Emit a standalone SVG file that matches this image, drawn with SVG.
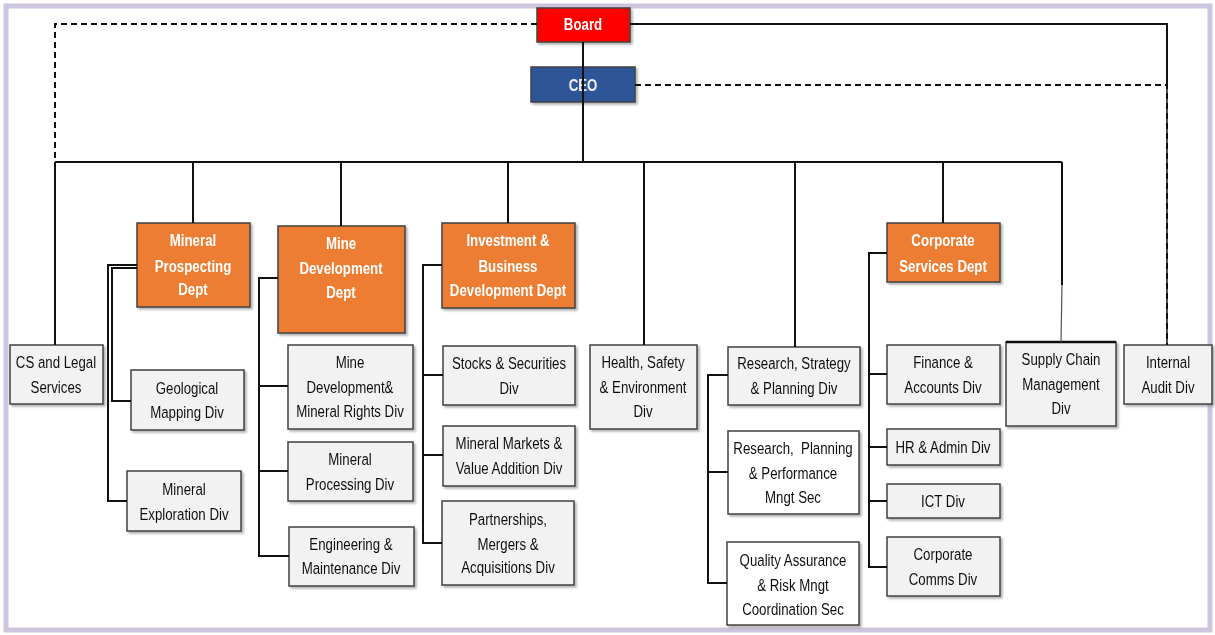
<svg xmlns="http://www.w3.org/2000/svg" width="1215" height="635" viewBox="0 0 1215 635">
<style>
.box{fill:#f2f2f2;stroke:#404040;stroke-width:1.5}
.wbox{fill:#ffffff;stroke:#404040;stroke-width:1.5}
.dept{fill:#ed7d31;stroke:#404040;stroke-width:1.5}
.t{font-family:"Liberation Sans",Arial,sans-serif;font-size:17px;fill:#111111;text-anchor:middle}
.w{font-family:"Liberation Sans",Arial,sans-serif;font-size:17px;font-weight:bold;fill:#ffffff;text-anchor:middle}
.c{fill:none;stroke:#111111;stroke-width:2}
.d{fill:none;stroke:#111111;stroke-width:2;stroke-dasharray:6 4}
</style>
<defs>
<filter id="sh" x="-10%" y="-10%" width="130%" height="130%">
<feDropShadow dx="2" dy="2" stdDeviation="0.8" flood-color="#808080" flood-opacity="0.6"/>
</filter>
</defs>
<rect x="6" y="6" width="1204" height="624" fill="#ffffff" stroke="#cdc4de" stroke-width="5"/>

<g id="nodes" filter="url(#sh)">
<g id="board"><rect x="537" y="8" width="93" height="34" fill="#ff0000" stroke="#404040" stroke-width="1.5"/><text class="w" font-size="16" transform="translate(583,30) scale(0.78,1)">Board</text></g>
<g id="ceo"><rect x="531" y="67" width="104" height="35" fill="#2f5597" stroke="#404040" stroke-width="1.5"/><text class="w" style="fill:#eef0f6" font-size="16" transform="translate(583,91) scale(0.78,1)">CEO</text></g>
<g id="cs-legal"><rect class="box" x="10" y="345" width="93" height="59"/><text class="t" transform="translate(56,0) scale(0.78,1)"><tspan x="0" y="368">CS and Legal</tspan><tspan x="0" y="393">Services</tspan></text></g>
<g id="mineral-prospecting"><rect class="dept" x="137" y="223" width="113" height="84"/><text class="w" transform="translate(193,0) scale(0.78,1)"><tspan x="0" y="246">Mineral</tspan><tspan x="0" y="272">Prospecting</tspan><tspan x="0" y="295">Dept</tspan></text></g>
<g id="geological"><rect class="box" x="131" y="370" width="113" height="60"/><text class="t" transform="translate(187,0) scale(0.78,1)"><tspan x="0" y="394">Geological</tspan><tspan x="0" y="418">Mapping Div</tspan></text></g>
<g id="exploration"><rect class="box" x="127" y="471" width="114" height="60"/><text class="t" transform="translate(184,0) scale(0.78,1)"><tspan x="0" y="495">Mineral</tspan><tspan x="0" y="520">Exploration Div</tspan></text></g>
<g id="mine-development"><rect class="dept" x="278" y="226" width="127" height="107"/><text class="w" transform="translate(341,0) scale(0.78,1)"><tspan x="0" y="249">Mine</tspan><tspan x="0" y="274">Development</tspan><tspan x="0" y="298">Dept</tspan></text></g>
<g id="mine-rights"><rect class="box" x="288" y="345" width="125" height="84"/><text class="t" transform="translate(350,0) scale(0.78,1)"><tspan x="0" y="368">Mine</tspan><tspan x="0" y="393">Development&amp;</tspan><tspan x="0" y="417">Mineral Rights Div</tspan></text></g>
<g id="processing"><rect class="box" x="288" y="442" width="125" height="59"/><text class="t" transform="translate(350,0) scale(0.78,1)"><tspan x="0" y="465">Mineral</tspan><tspan x="0" y="490">Processing Div</tspan></text></g>
<g id="engineering"><rect class="box" x="289" y="527" width="125" height="59"/><text class="t" transform="translate(351,0) scale(0.78,1)"><tspan x="0" y="550">Engineering &amp;</tspan><tspan x="0" y="574">Maintenance Div</tspan></text></g>
<g id="investment"><rect class="dept" x="442" y="223" width="133" height="85"/><text class="w" transform="translate(508,0) scale(0.78,1)"><tspan x="0" y="246">Investment &amp;</tspan><tspan x="0" y="272">Business</tspan><tspan x="0" y="296">Development Dept</tspan></text></g>
<g id="stocks"><rect class="box" x="443" y="346" width="132" height="59"/><text class="t" transform="translate(509,0) scale(0.78,1)"><tspan x="0" y="369">Stocks &amp; Securities</tspan><tspan x="0" y="394">Div</tspan></text></g>
<g id="markets"><rect class="box" x="443" y="426" width="132" height="60"/><text class="t" transform="translate(509,0) scale(0.78,1)"><tspan x="0" y="449">Mineral Markets &amp;</tspan><tspan x="0" y="474">Value Addition Div</tspan></text></g>
<g id="partnerships"><rect class="box" x="442" y="501" width="132" height="84"/><text class="t" transform="translate(508,0) scale(0.78,1)"><tspan x="0" y="525">Partnerships,</tspan><tspan x="0" y="550">Mergers &amp;</tspan><tspan x="0" y="573">Acquisitions Div</tspan></text></g>
<g id="hse"><rect class="box" x="590" y="345" width="107" height="84"/><text class="t" transform="translate(643,0) scale(0.78,1)"><tspan x="0" y="368">Health, Safety</tspan><tspan x="0" y="393">&amp; Environment</tspan><tspan x="0" y="417">Div</tspan></text></g>
<g id="research-strategy"><rect class="box" x="728" y="347" width="132" height="58"/><text class="t" transform="translate(794,0) scale(0.78,1)"><tspan x="0" y="369">Research, Strategy</tspan><tspan x="0" y="394">&amp; Planning Div</tspan></text></g>
<g id="research-planning"><rect class="wbox" x="728" y="431" width="131" height="83"/><text class="t" transform="translate(793,0) scale(0.78,1)"><tspan x="0" y="454">Research,&#160; Planning</tspan><tspan x="0" y="479">&amp; Performance</tspan><tspan x="0" y="503">Mngt Sec</tspan></text></g>
<g id="quality"><rect class="wbox" x="727" y="542" width="132" height="83"/><text class="t" transform="translate(793,0) scale(0.78,1)"><tspan x="0" y="566">Quality Assurance</tspan><tspan x="0" y="591">&amp; Risk Mngt</tspan><tspan x="0" y="615">Coordination Sec</tspan></text></g>
<g id="corporate-services"><rect class="dept" x="887" y="223" width="113" height="59"/><text class="w" transform="translate(943,0) scale(0.78,1)"><tspan x="0" y="246">Corporate</tspan><tspan x="0" y="272">Services Dept</tspan></text></g>
<g id="finance"><rect class="box" x="887" y="345" width="113" height="59"/><text class="t" transform="translate(943,0) scale(0.78,1)"><tspan x="0" y="368">Finance &amp;</tspan><tspan x="0" y="393">Accounts Div</tspan></text></g>
<g id="hr"><rect class="box" x="887" y="429" width="113" height="36"/><text class="t" transform="translate(943,453) scale(0.78,1)">HR &amp; Admin Div</text></g>
<g id="ict"><rect class="box" x="887" y="484" width="113" height="34"/><text class="t" transform="translate(943,507) scale(0.78,1)">ICT Div</text></g>
<g id="comms"><rect class="box" x="887" y="537" width="113" height="59"/><text class="t" transform="translate(943,0) scale(0.78,1)"><tspan x="0" y="560">Corporate</tspan><tspan x="0" y="585">Comms Div</tspan></text></g>
<g id="supply-chain"><rect class="box" x="1006" y="342" width="110" height="84"/><line x1="1006" y1="342" x2="1116" y2="342" stroke="#111" stroke-width="2.5"/><text class="t" transform="translate(1061,0) scale(0.78,1)"><tspan x="0" y="365">Supply Chain</tspan><tspan x="0" y="390">Management</tspan><tspan x="0" y="414">Div</tspan></text></g>
<g id="internal-audit"><rect class="box" x="1124" y="345" width="88" height="59"/><text class="t" transform="translate(1168,0) scale(0.78,1)"><tspan x="0" y="368">Internal</tspan><tspan x="0" y="393">Audit Div</tspan></text></g>
</g>

<g id="connectors">
<path class="d" d="M537,24 H55 V162"/>
<path class="c" d="M630,24 H1167 V345" style="stroke:#555555"/>
<path class="c" d="M630,24 H1167 V85"/>
<path class="d" d="M635,85 H1167 V345"/>
<path class="c" d="M583,42 V162"/>
<path class="c" stroke-width="3" d="M55,162 H1062"/>
<path class="c" d="M55,162 V345 M193,162 V223 M341,162 V226 M508,162 V223 M644,162 V345 M795,162 V347 M943,162 V223 M1062,162 V285"/>
<path fill="none" stroke="#44546a" stroke-width="1.2" d="M1062,285 L1061,342"/>
<path class="c" d="M137,265 H108 V501 H127 M137,268 H112 V401 H131"/>
<path class="c" d="M278,278 H259 V556 H289 M259,386 H288 M259,471 H288"/>
<path class="c" d="M442,265 H423 V543 H442 M423,375 H443 M423,455 H443"/>
<path class="c" d="M728,375 H708 V583 H727 M708,472 H728"/>
<path class="c" stroke-width="2.5" d="M887,253 H869 V567 H887 M869,374 H887 M869,447 H887 M869,501 H887"/>
</g>
</svg>
